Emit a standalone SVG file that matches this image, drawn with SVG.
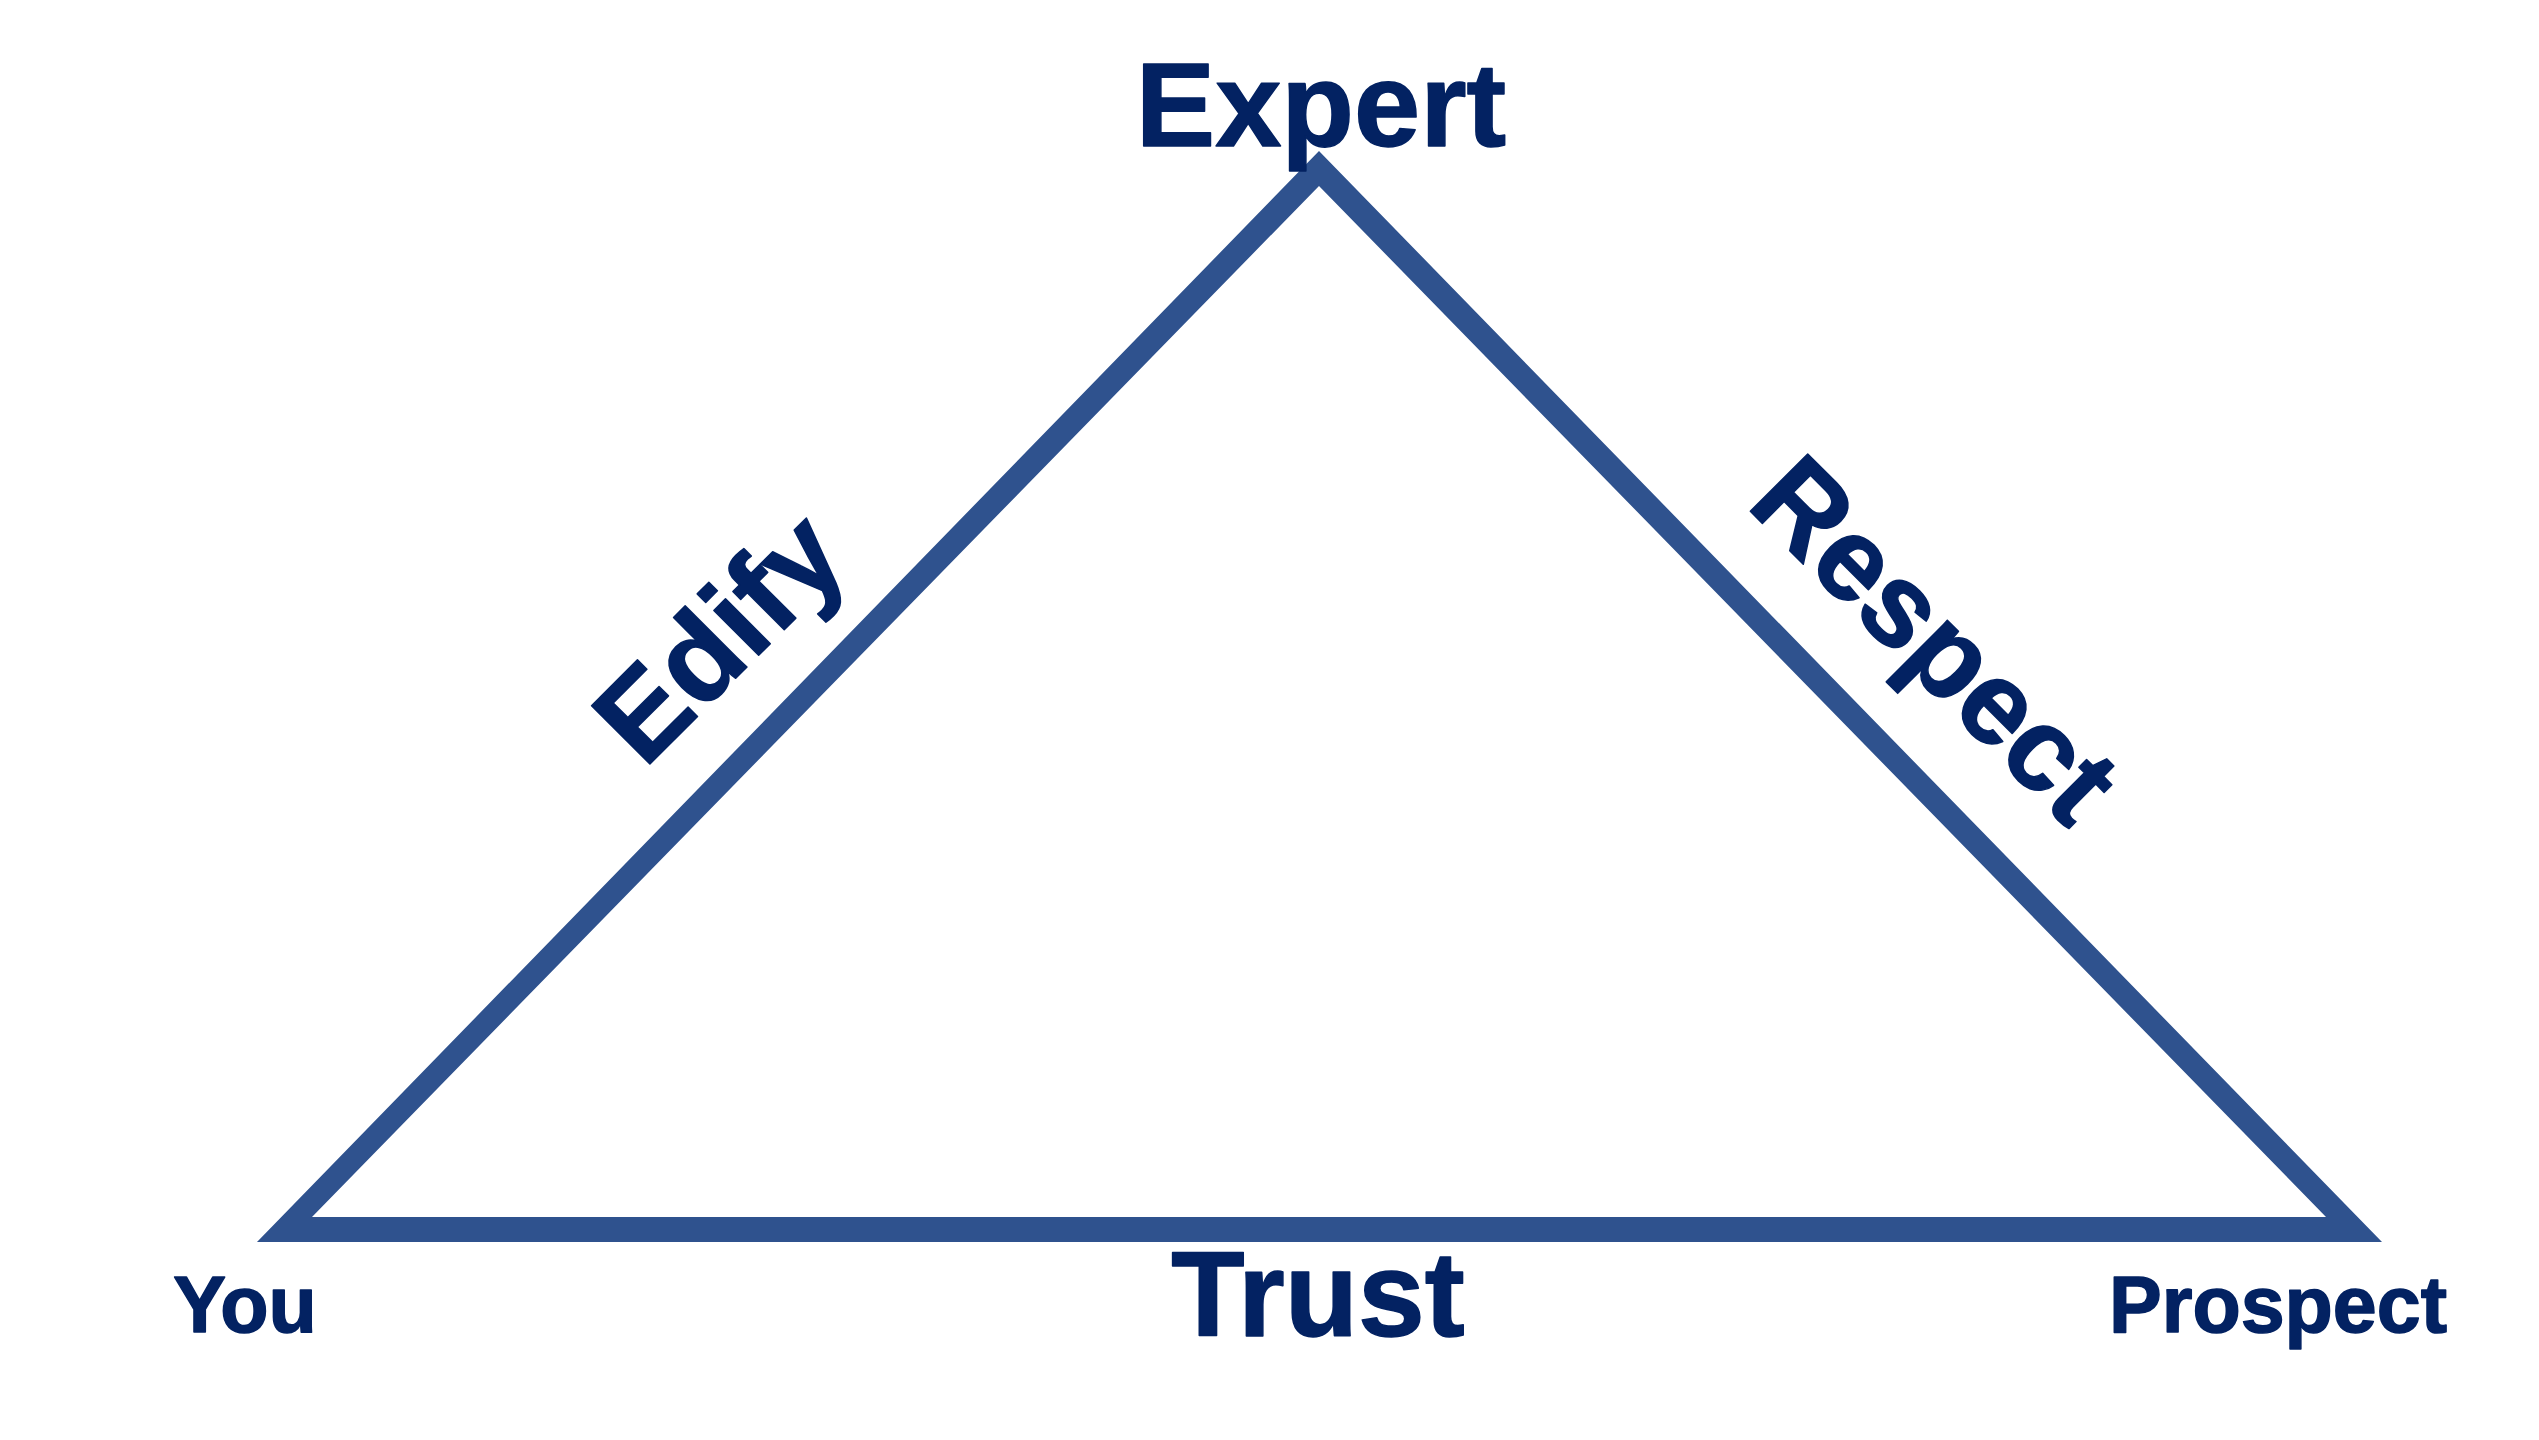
<svg xmlns="http://www.w3.org/2000/svg" width="2539" height="1440" viewBox="0 0 2539 1440">
<style>
.lbl{font-family:"Liberation Sans",Arial,Helvetica,sans-serif;font-weight:bold;fill:#032262;stroke:#032262;stroke-width:1.5;stroke-linejoin:round;text-anchor:middle}
.tri{fill:#2F528E;fill-rule:evenodd}
</style>
<rect width="2539" height="1440" fill="#ffffff"/>
<g id="connectors">
<path class="tri" d="M1319,151 L2382,1242 L257,1242 Z M1319,186 L312,1217 L2326,1217 Z"/>
</g>
<g id="node-expert"><text class="lbl" x="1321" y="146" font-size="119">Expert</text></g>
<g id="node-you"><text class="lbl" x="245" y="1332" font-size="79">You</text></g>
<g id="node-prospect"><text class="lbl" x="2278" y="1332" font-size="79">Prospect</text></g>
<g id="node-trust"><text class="lbl" x="1318" y="1336" font-size="120">Trust</text></g>
<g id="node-edify"><text class="lbl" font-size="120" transform="translate(748,666) rotate(-45)">Edify</text></g>
<g id="node-respect"><text class="lbl" font-size="118" transform="translate(1907,668) rotate(45)">Respect</text></g>
</svg>
